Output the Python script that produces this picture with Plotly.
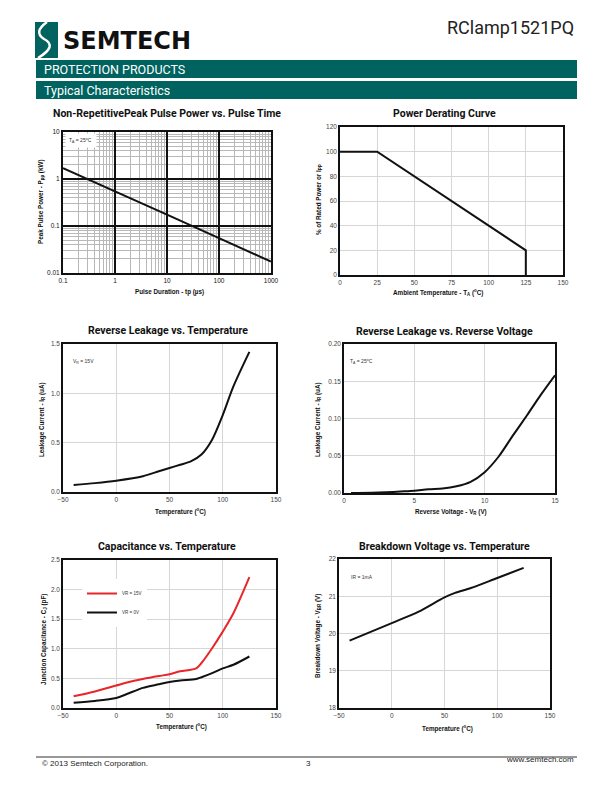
import plotly.graph_objects as go

# page is drawn with an 8px body margin; figure fills the rest of the 612x792 window
OFF = 8
W, H = 612 - 2 * OFF, 792 - 2 * OFF
TEAL = "#00635F"

# ---------------- data ----------------
pulse_tp = [0.1, 1, 10, 100, 1000]
pulse_ppk = [1.7, 0.55, 0.175, 0.055, 0.0175]

derate_t = [0, 25, 125, 125]
derate_pct = [100, 100, 20, 0]

leak_t = [-40, -20, 0, 25, 40, 50, 60, 70, 80, 90, 100, 110, 125]
leak_ir = [0.07, 0.09, 0.115, 0.16, 0.21, 0.243, 0.276, 0.31, 0.38, 0.53, 0.78, 1.07, 1.42]

rv_v = [0.5, 2, 3, 4, 5, 6, 7, 8, 9, 10, 11, 12, 13, 14, 15]
rv_ir = [0.0, 0.0003, 0.001, 0.002, 0.003, 0.005, 0.006, 0.009, 0.015, 0.028, 0.049, 0.077, 0.104, 0.132, 0.158]

cap_t = [-40, -20, 0, 10, 25, 40, 50, 60, 75, 80, 90, 100, 110, 125]
cap_15v = [0.197, 0.28, 0.38, 0.43, 0.49, 0.54, 0.57, 0.62, 0.67, 0.76, 1.01, 1.29, 1.6, 2.21]
cap_0v = [0.09, 0.12, 0.17, 0.236, 0.34, 0.40, 0.44, 0.465, 0.49, 0.52, 0.59, 0.67, 0.73, 0.87]

vbr_t = [-40, 0, 25, 50, 60, 75, 100, 125]
vbr_v = [19.81, 20.28, 20.58, 20.97, 21.09, 21.22, 21.49, 21.76]

# ---------------- helpers (page pixel -> paper fraction) ----------------
def px(x):
    return (x - OFF) / W

def py(y):
    return 1 - (y - OFF) / H

def xd(a, b):
    return [px(a), px(b)]

def yd(top, bot):
    return [py(bot), py(top)]

TICKFONT = dict(family="Liberation Sans", size=6.5, color="#444")
TICKFONT1 = dict(family="Liberation Sans", size=6.5, color="#111")
TITLEFONT = dict(family="Roboto", size=10.5, color="#111")
AXTFONT = dict(family="Liberation Sans", size=6.3, color="#111")

fig = go.Figure()

BLACK_LINE = dict(color="#111", width=2)
SMOOTH = dict(color="#111", width=2, shape="spline", smoothing=0.8)

fig.add_trace(go.Scatter(x=pulse_tp, y=pulse_ppk, mode="lines", line=BLACK_LINE,
                         xaxis="x", yaxis="y", showlegend=False))
fig.add_trace(go.Scatter(x=derate_t, y=derate_pct, mode="lines", line=BLACK_LINE,
                         xaxis="x2", yaxis="y2", showlegend=False))
fig.add_trace(go.Scatter(x=leak_t, y=leak_ir, mode="lines", line=SMOOTH,
                         xaxis="x3", yaxis="y3", showlegend=False))
fig.add_trace(go.Scatter(x=rv_v, y=rv_ir, mode="lines", line=SMOOTH,
                         xaxis="x4", yaxis="y4", showlegend=False))
fig.add_trace(go.Scatter(x=cap_t, y=cap_15v, mode="lines", name="VR = 15V",
                         line=dict(SMOOTH, color="#E8262A"),
                         xaxis="x5", yaxis="y5", showlegend=True))
fig.add_trace(go.Scatter(x=cap_t, y=cap_0v, mode="lines", name="VR = 0V",
                         line=SMOOTH, xaxis="x5", yaxis="y5", showlegend=True))
fig.add_trace(go.Scatter(x=vbr_t, y=vbr_v, mode="lines", line=SMOOTH,
                         xaxis="x6", yaxis="y6", showlegend=False))

def lin_axis(dom, rng, dtick, anchor, tickformat=None):
    d = dict(domain=dom, range=rng, dtick=dtick, tick0=rng[0], anchor=anchor,
             showgrid=True, gridcolor="#d6d6d6", gridwidth=1, automargin=False,
             showline=True, linecolor="#111", linewidth=1.5, mirror=True,
             zeroline=False, ticks="", tickfont=TICKFONT, fixedrange=True)
    if tickformat:
        d["tickformat"] = tickformat
    return d

layout = dict(
    width=W, height=H, margin=dict(l=0, r=0, t=0, b=0, pad=0, autoexpand=False),
    autosize=False,
    paper_bgcolor="white", plot_bgcolor="white",
    showlegend=True,
    legend=dict(x=px(82), y=py(579), xanchor="left", yanchor="top",
                bgcolor="white", font=dict(family="Liberation Sans", size=4.5, color="#333"),
                itemwidth=30, tracegroupgap=0),
)

# chart 1 log-log
log_common = dict(type="log", showline=True, linecolor="#111", linewidth=2, mirror=True,
                  showgrid=True, gridcolor="#111", gridwidth=1.8, zeroline=False, ticks="",
                  dtick=1, exponentformat="none", tickfont=TICKFONT1, fixedrange=True, automargin=False,
                  minor=dict(dtick="D1", showgrid=True, gridcolor="#b8b8b8", gridwidth=1.4, ticks=""))
layout["xaxis"] = dict(log_common, domain=xd(63, 271), range=[-1, 3], anchor="y")
layout["yaxis"] = dict(log_common, domain=yd(132, 273), range=[-2, 1], anchor="x")

layout["xaxis2"] = lin_axis(xd(340, 563), [0, 150], 25, "y2")
layout["yaxis2"] = lin_axis(yd(127, 275), [0, 120], 20, "x2")
layout["xaxis3"] = lin_axis(xd(63, 276), [-50, 150], 50, "y3")
layout["yaxis3"] = lin_axis(yd(344, 492), [0, 1.5], 0.5, "x3", ".1f")
layout["xaxis4"] = lin_axis(xd(344, 555), [0, 15], 5, "y4")
layout["yaxis4"] = lin_axis(yd(344, 493), [0, 0.2], 0.05, "x4", ".2f")
layout["xaxis5"] = lin_axis(xd(63, 276), [-50, 150], 50, "y5")
layout["yaxis5"] = lin_axis(yd(560, 708), [0, 2.5], 0.5, "x5", ".1f")
layout["xaxis6"] = lin_axis(xd(339, 550), [-50, 150], 50, "y6")
layout["yaxis6"] = lin_axis(yd(559, 708), [18, 22], 1, "x6")

fig.update_layout(**layout)

ann = []
def text(x, y, s, font, xanchor="center", yanchor="middle", angle=0, bg=None, pad=1):
    a = dict(x=px(x), y=py(y), xref="paper", yref="paper", text=s, showarrow=False,
             font=font, xanchor=xanchor, yanchor=yanchor, textangle=angle, borderpad=pad)
    if bg:
        a["bgcolor"] = bg
    ann.append(a)

# chart titles
text(167, 114, "<b>Non-RepetitivePeak Pulse Power vs. Pulse Time</b>", TITLEFONT)
text(444, 114, "<b>Power Derating Curve</b>", TITLEFONT)
text(168, 330, "<b>Reverse Leakage vs. Temperature</b>", TITLEFONT)
text(444, 331, "<b>Reverse Leakage vs. Reverse Voltage</b>", TITLEFONT)
text(167, 546, "<b>Capacitance vs. Temperature</b>", TITLEFONT)
text(444, 546, "<b>Breakdown Voltage vs. Temperature</b>", TITLEFONT)

# axis titles
text(169, 292, "<b>Pulse Duration - tp (µs)</b>", AXTFONT)
text(41, 202, "<b>Peak Pulse Power - P<sub>pp</sub> (kW)</b>", AXTFONT, angle=-90)
text(438, 292, "<b>Ambient Temperature - T<sub>A</sub> (<sup>o</sup>C)</b>", AXTFONT)
text(319, 200, "<b>% of Rated Power or I<sub>PP</sub></b>", AXTFONT, angle=-90)
text(180, 511, "<b>Temperature (<sup>o</sup>C)</b>", AXTFONT)
text(42, 420, "<b>Leakage Current - I<sub>R</sub> (uA)</b>", AXTFONT, angle=-90)
text(451, 512, "<b>Reverse Voltage - V<sub>R</sub> (V)</b>", AXTFONT)
text(318, 420, "<b>Leakage Current - I<sub>R</sub> (uA)</b>", AXTFONT, angle=-90)
text(181, 726, "<b>Temperature (<sup>o</sup>C)</b>", AXTFONT)
text(44, 640, "<b>Junction Capacitance - C<sub>J</sub> (pF)</b>", AXTFONT, angle=-90)
text(447, 728, "<b>Temperature (<sup>o</sup>C)</b>", AXTFONT)
text(318, 636, "<b>Breakdown Voltage - V<sub>BR</sub> (V)</b>", AXTFONT, angle=-90)

# in-plot notes
NOTE = dict(family="Liberation Sans", size=5, color="#333")
text(65, 140, "T<sub>A</sub> = 25<sup>o</sup>C ", NOTE, xanchor="left", bg="white", pad=3)
text(71, 362, "V<sub>R</sub> = 15V", NOTE, xanchor="left")
text(348, 362, "T<sub>A</sub> = 25<sup>o</sup>C", NOTE, xanchor="left")
text(349, 577, "IR = 1mA", NOTE, xanchor="left")

# header / footer
text(576, 27, "RClamp1521PQ", dict(family="Roboto", size=18, color="#222"), xanchor="right")
text(61, 41, "<b>SEMTECH</b>", dict(family="DejaVu Sans", size=24, color="#111"), xanchor="left")
text(42, 69.5, "PROTECTION PRODUCTS", dict(family="Roboto", size=12.5, color="white"), xanchor="left")
text(42, 90.5, "Typical Characteristics", dict(family="Roboto", size=12.5, color="white"), xanchor="left")
FOOT = dict(family="Liberation Sans", size=8, color="#222")
text(40, 763, "© 2013 Semtech Corporation.", FOOT, xanchor="left")
text(308, 763, "3", FOOT)
text(576, 759, "www.semtech.com", FOOT, xanchor="right")

shapes = [
    dict(type="rect", xref="paper", yref="paper", x0=px(36), x1=px(577), y0=py(78), y1=py(60),
         fillcolor=TEAL, line=dict(width=0), layer="below"),
    dict(type="rect", xref="paper", yref="paper", x0=px(36), x1=px(577), y0=py(99), y1=py(81),
         fillcolor=TEAL, line=dict(width=0), layer="below"),
    dict(type="rect", xref="paper", yref="paper", x0=px(35), x1=px(58), y0=py(58), y1=py(22),
         fillcolor=TEAL, line=dict(width=0), layer="below"),
    dict(type="line", xref="paper", yref="paper", x0=px(36), x1=px(577), y0=py(757), y1=py(757),
         line=dict(color="#333", width=1)),
]
# white swoosh in logo
path = "M {} {} Q {} {} {} {} Q {} {} {} {}".format(
    px(47), py(22), px(33), py(32), px(44), py(39),
    px(58), py(46), px(38), py(58))
shapes.append(dict(type="path", xref="paper", yref="paper", path=path,
                   line=dict(color="white", width=2.5)))

fig.update_layout(annotations=ann, shapes=shapes)
fig.write_html("out.html")
